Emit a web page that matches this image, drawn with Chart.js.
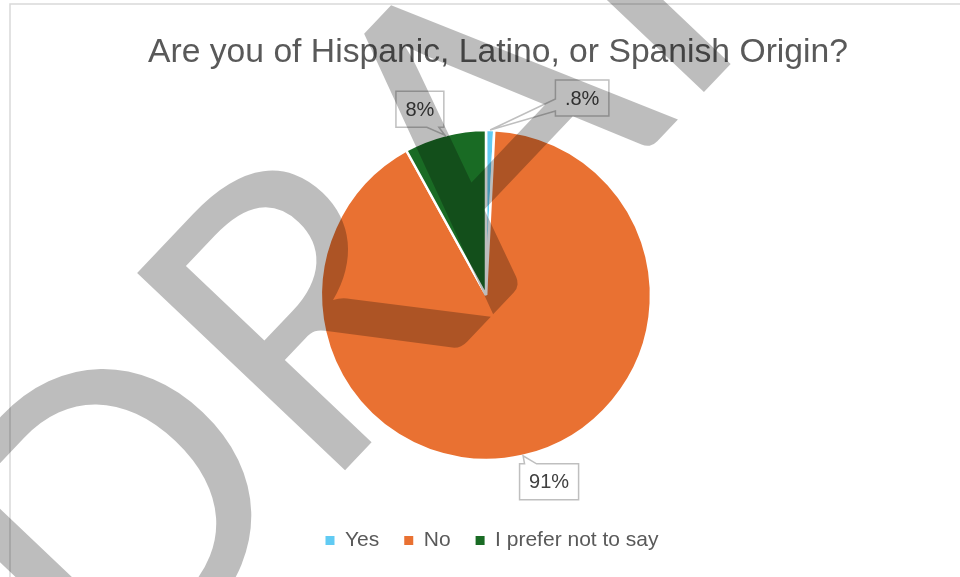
<!DOCTYPE html>
<html>
<head>
<meta charset="utf-8">
<script src="https://cdn.jsdelivr.net/npm/chart.js@4.4.1/dist/chart.umd.min.js"></script>
<style>
  html, body { margin: 0; padding: 0; background: #ffffff; }
  #wrap { width: 960px; height: 577px; position: relative; }
</style>
</head>
<body>
<div id="wrap"><canvas id="c" width="960" height="577"></canvas></div>
<script>
// Survey answers and their shares (percent)
const categories = ['Yes', 'No', 'I prefer not to say'];
const shares = [0.8, 91, 8];
const shareLabels = ['.8%', '91%', '8%'];
const sliceColors = ['#61CBF3', '#E97132', '#196B24'];
const titleText = 'Are you of Hispanic, Latino, or Spanish Origin?';
const watermarkText = 'DRAFT';

// Callout box centre, offset from the outer midpoint of each slice
const calloutOffsets = [[92, -32], [26, 26], [-25, -26]];

const textGrey = '#595959';
const labelGrey = '#404040';

function clamp(v, lo, hi) { return Math.max(lo, Math.min(hi, v)); }

// Rectangle with a wedge tail pointing at (tx, ty)
function calloutPath(ctx, L, T, W, H, tx, ty) {
  const R = L + W, B = T + H, half = 6, m = 5;
  const d = { left: L - tx, right: tx - R, top: T - ty, bottom: ty - B };
  let side = 'left', best = -Infinity;
  for (const k of Object.keys(d)) { if (d[k] > best) { best = d[k]; side = k; } }
  const pts = [];
  if (side === 'top') {
    const c = clamp(tx, L + half + m, R - half - m);
    pts.push([L, T], [c - half, T], [tx, ty], [c + half, T], [R, T], [R, B], [L, B]);
  } else if (side === 'right') {
    const c = clamp(ty, T + half + m, B - half - m);
    pts.push([L, T], [R, T], [R, c - half], [tx, ty], [R, c + half], [R, B], [L, B]);
  } else if (side === 'bottom') {
    const c = clamp(tx, L + half + m, R - half - m);
    pts.push([L, T], [R, T], [R, B], [c + half, B], [tx, ty], [c - half, B], [L, B]);
  } else {
    const c = clamp(ty, T + half + m, B - half - m);
    pts.push([L, T], [R, T], [R, B], [L, B], [L, c + half], [tx, ty], [L, c - half]);
  }
  ctx.beginPath();
  pts.forEach((p, i) => i ? ctx.lineTo(p[0], p[1]) : ctx.moveTo(p[0], p[1]));
  ctx.closePath();
}

const framePlugin = {
  id: 'frame',
  afterLayout(chart) {
    // nudge the legend row slightly right of the pie centre
    const lg = chart.legend;
    if (lg) { lg.left += 6; lg.right += 6; }
  },
  beforeDraw(chart) {
    const ctx = chart.ctx;
    ctx.save();
    ctx.fillStyle = '#ffffff';
    ctx.fillRect(0, 0, chart.width, chart.height);
    // chart frame (top and left edges)
    ctx.strokeStyle = '#d9d9d9';
    ctx.lineWidth = 1.5;
    ctx.beginPath();
    ctx.moveTo(10, chart.height);
    ctx.lineTo(10, 4);
    ctx.lineTo(chart.width, 4);
    ctx.stroke();
    // title, condensed to its box width
    ctx.font = '34px "Liberation Sans Narrow", "Liberation Sans", Arial, sans-serif';
    ctx.fillStyle = textGrey;
    ctx.textBaseline = 'alphabetic';
    ctx.textAlign = 'center';
    const w = ctx.measureText(titleText).width;
    const sx = 700 / w;
    ctx.translate(498, 62);
    ctx.scale(sx, 1);
    ctx.fillText(titleText, 0, 0);
    ctx.restore();
  }
};

const calloutPlugin = {
  id: 'callouts',
  afterDraw(chart) {
    const ctx = chart.ctx;
    const meta = chart.getDatasetMeta(0);
    ctx.save();
    ctx.font = '20px "Liberation Sans", Arial, sans-serif';
    ctx.textAlign = 'center';
    ctx.textBaseline = 'middle';
    meta.data.forEach((arc, i) => {
      const p = arc.getProps(['x', 'y', 'startAngle', 'endAngle', 'outerRadius'], true);
      const mid = (p.startAngle + p.endAngle) / 2;
      const tx = p.x + Math.cos(mid) * p.outerRadius;
      const ty = p.y + Math.sin(mid) * p.outerRadius;
      const cx = tx + calloutOffsets[i][0];
      const cy = ty + calloutOffsets[i][1];
      const txt = shareLabels[i];
      const bw = ctx.measureText(txt).width + 19;
      const bh = 36;
      calloutPath(ctx, cx - bw / 2, cy - bh / 2, bw, bh, tx, ty);
      ctx.fillStyle = '#ffffff';
      ctx.fill();
      ctx.strokeStyle = '#bfbfbf';
      ctx.lineWidth = 1.5;
      ctx.stroke();
      ctx.fillStyle = labelGrey;
      ctx.fillText(txt, cx, cy + 1);
    });
    ctx.restore();
  }
};

const watermarkPlugin = {
  id: 'watermark',
  afterDraw(chart) {
    const ctx = chart.ctx;
    ctx.save();
    ctx.globalCompositeOperation = 'multiply';
    ctx.fillStyle = '#bdbdbd';
    ctx.font = '400px Lato, "Open Sans", sans-serif';
    ctx.textBaseline = 'alphabetic';
    ctx.textAlign = 'left';
    ctx.rotate(-46.5 * Math.PI / 180);
    const wD = ctx.measureText('D').width;
    const rBox = ctx.measureText('R');
    const u0 = -109 - wD + rBox.actualBoundingBoxLeft;
    ctx.fillText(watermarkText, u0, 574);
    ctx.restore();
  }
};

new Chart(document.getElementById('c'), {
  type: 'pie',
  data: {
    labels: categories,
    datasets: [{
      data: shares,
      backgroundColor: sliceColors,
      borderColor: '#ffffff',
      borderWidth: 2.5,
      radius: 165
    }]
  },
  options: {
    responsive: false,
    animation: false,
    layout: { padding: { top: 85, left: 12, right: 0, bottom: 16 } },
    plugins: {
      title: { display: false },
      tooltip: { enabled: false },
      legend: {
        display: true,
        position: 'bottom',
        labels: {
          color: textGrey,
          font: { family: '"Liberation Sans", Arial, sans-serif', size: 21 },
          boxWidth: 9,
          boxHeight: 9,
          padding: 25,
          generateLabels(chart) {
            const items = Chart.overrides.pie.plugins.legend.labels.generateLabels(chart);
            items.forEach(it => { it.lineWidth = 0; it.strokeStyle = it.fillStyle; });
            return items;
          }
        }
      }
    }
  },
  plugins: [framePlugin, calloutPlugin, watermarkPlugin]
});
</script>
</body>
</html>
